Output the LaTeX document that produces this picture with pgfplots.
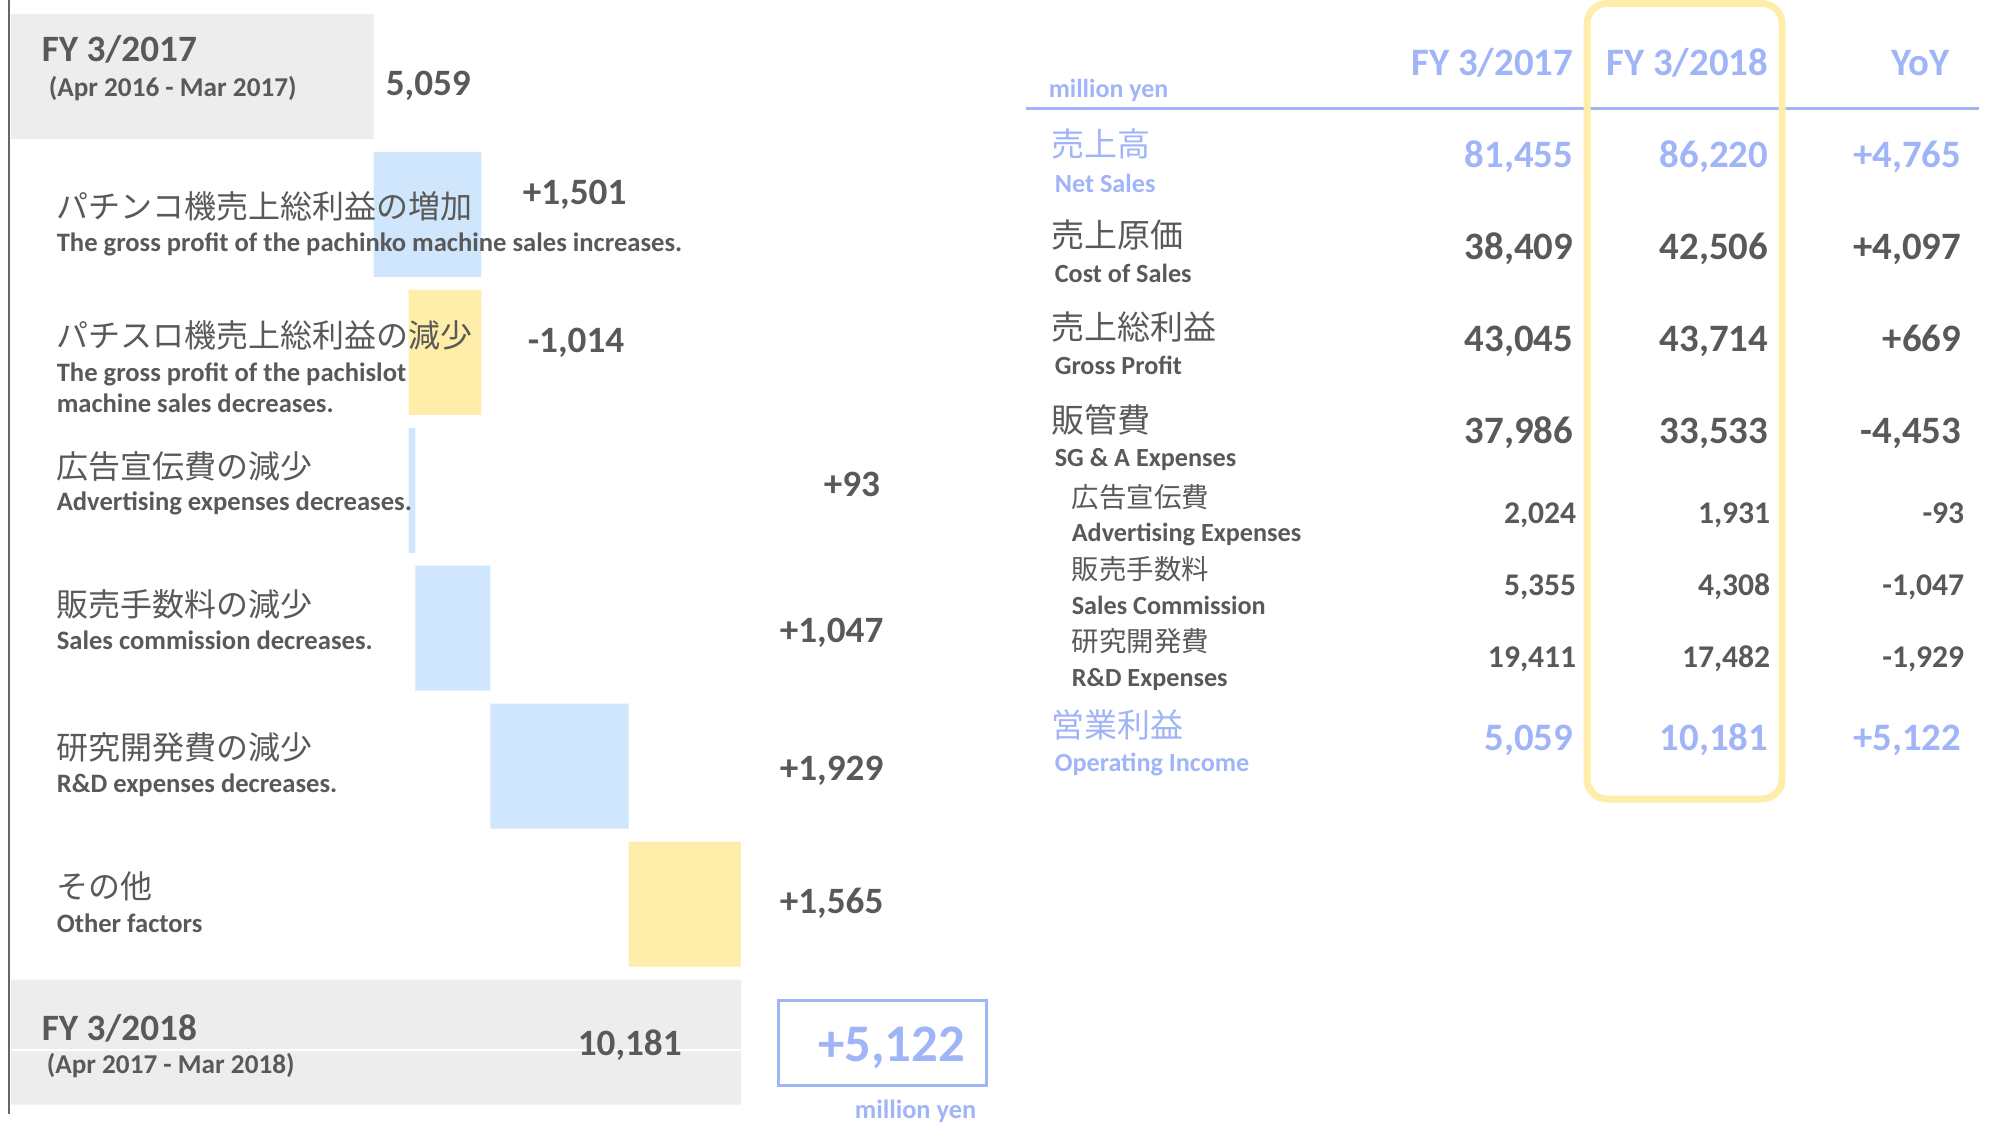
\documentclass[border=0pt]{standalone}
\usepackage{fontspec}
\setmainfont{Carlito}
\newfontfamily\jp{Noto Sans CJK JP}
\usepackage{pgfplots}
\usepackage{pgfplotstable}
\pgfplotsset{compat=1.18}
\definecolor{txt}{HTML}{595959}
\definecolor{bl}{RGB}{160,180,248}
\definecolor{bfill}{HTML}{D0E6FC}
\definecolor{yfill}{HTML}{FFEDAA}
\definecolor{gfill}{HTML}{EDEDED}
\definecolor{axl}{HTML}{666666}
\newcommand\fs[1]{\fontsize{#1}{#1}\selectfont}

\pgfplotstableread{
row off gray blue yellow
0 0 5059 0 0
-1 5059 0 1501 0
-2 5546 0 0 1014
-3 5546 0 93 0
-4 5639 0 1047 0
-5 6686 0 1929 0
-6 8615 0 0 1565
-7 0 10181 0 0
}\wf

\begin{document}
\begin{tikzpicture}
\path[use as bounding box] (0,0) rectangle (497.25pt,-281pt);
\begin{axis}[at={(2.75pt,-277.75pt)}, anchor=south west, scale only axis,
  width=182.5pt, height=275.875pt, xmin=0, xmax=10181, ymin=-7.5, ymax=0.5,
  xbar stacked, bar width=31.25pt, axis lines=none,
  xtick=\empty, ytick=\empty, clip=false]
\addplot[draw=none, fill=none] table[x=off, y=row] {\wf};
\addplot[draw=none, fill=gfill] table[x=gray, y=row] {\wf};
\addplot[draw=none, fill=bfill] table[x=blue, y=row] {\wf};
\addplot[draw=none, fill=yfill] table[x=yellow, y=row] {\wf};
\end{axis}
\begin{scope}[x=0.25pt, y=-0.25pt, every node/.style={inner sep=0pt, text=txt},
  L/.style={anchor=base west}, R/.style={anchor=base east}]
% axis line
\draw[axl, line width=0.5pt] (9,0) -- (9,1114);
% white line in bottom bar
\draw[white, line width=0.4pt] (11,1050) -- (741,1050);
% left labels
\node[L, font=\bfseries\fs{9.3pt}] at (41,62) {FY 3/2017};
\node[L, font=\bfseries\fs{6.8pt}] at (48,96) {(Apr 2016 - Mar 2017)};
\node[L, font=\bfseries\fs{9.3pt}] at (385,95) {5,059};
\node[L, font=\jp\fs{8pt}] at (56,218) {パチンコ機売上総利益の増加};
\node[L, font=\bfseries\fs{6.65pt}] at (56,251) {The gross profit of the pachinko machine sales increases.};
\node[L, font=\bfseries\fs{9.3pt}] at (522,204) {+1,501};
\node[L, font=\jp\fs{8pt}] at (56,347) {パチスロ機売上総利益の減少};
\node[L, font=\bfseries\fs{6.65pt}] at (56,381) {The gross profit of the pachislot};
\node[L, font=\bfseries\fs{6.65pt}] at (56,412) {machine sales decreases.};
\node[L, font=\bfseries\fs{9.3pt}] at (527,352) {-1,014};
\node[L, font=\jp\fs{8pt}] at (56,478) {広告宣伝費の減少};
\node[L, font=\bfseries\fs{6.65pt}] at (56,510) {Advertising expenses decreases.};
\node[L, font=\bfseries\fs{9.3pt}] at (823,496) {+93};
\node[L, font=\jp\fs{8pt}] at (56,616) {販売手数料の減少};
\node[L, font=\bfseries\fs{6.65pt}] at (56,649) {Sales commission decreases.};
\node[L, font=\bfseries\fs{9.3pt}] at (779,642) {+1,047};
\node[L, font=\jp\fs{8pt}] at (56,759) {研究開発費の減少};
\node[L, font=\bfseries\fs{6.65pt}] at (56,792) {R\&D expenses decreases.};
\node[L, font=\bfseries\fs{9.3pt}] at (779,780) {+1,929};
\node[L, font=\jp\fs{8pt}] at (56,898) {その他};
\node[L, font=\bfseries\fs{6.65pt}] at (56,932) {Other factors};
\node[L, font=\bfseries\fs{9.3pt}] at (779,913) {+1,565};
\node[L, font=\bfseries\fs{9.3pt}] at (41,1040) {FY 3/2018};
\node[L, font=\bfseries\fs{6.8pt}] at (46,1073) {(Apr 2017 - Mar 2018)};
\node[L, font=\bfseries\fs{9.3pt}] at (577,1055) {10,181};
\draw[bl, line width=0.75pt] (778,1000) rectangle (986,1085);
\node[R, font=\bfseries\fs{13.2pt}, text=bl] at (966,1061) {+5,122};
\node[R, font=\bfseries\fs{6.6pt}, text=bl] at (977,1118) {million yen};
% table
\draw[bl, line width=0.75pt] (1026,108.5) -- (1979,108.5);
\draw[yfill, line width=1.75pt, rounded corners=5pt] (1587,3.5) rectangle (1782,799);
\node[L, font=\bfseries\fs{6.5pt}, text=bl] at (1048,97) {million yen};
\node[R, font=\bfseries\fs{9.7pt}, text=bl] at (1574,75) {FY 3/2017};
\node[R, font=\bfseries\fs{9.7pt}, text=bl] at (1769,75) {FY 3/2018};
\node[R, font=\bfseries\fs{9.7pt}, text=bl] at (1950,75) {YoY};
% main rows
\begin{scope}[every node/.append style={text=bl}]
\node[L, font=\jp\fs{8.25pt}] at (1051,156) {売上高};
\node[L, font=\bfseries\fs{6.55pt}] at (1054,192) {Net Sales};
\node[R, font=\bfseries\fs{9.7pt}] at (1574,167) {81,455};
\node[R, font=\bfseries\fs{9.7pt}] at (1769,167) {86,220};
\node[R, font=\bfseries\fs{9.7pt}] at (1962,167) {+4,765};
\node[L, font=\jp\fs{8.25pt}] at (1051,737) {営業利益};
\node[L, font=\bfseries\fs{6.55pt}] at (1054,771) {Operating Income};
\node[R, font=\bfseries\fs{9.7pt}] at (1574,750) {5,059};
\node[R, font=\bfseries\fs{9.7pt}] at (1769,750) {10,181};
\node[R, font=\bfseries\fs{9.7pt}] at (1962,750) {+5,122};
\end{scope}
\node[L, font=\jp\fs{8.25pt}] at (1051,247) {売上原価};
\node[L, font=\bfseries\fs{6.55pt}] at (1054,282) {Cost of Sales};
\node[R, font=\bfseries\fs{9.7pt}] at (1574,259) {38,409};
\node[R, font=\bfseries\fs{9.7pt}] at (1769,259) {42,506};
\node[R, font=\bfseries\fs{9.7pt}] at (1962,259) {+4,097};
\node[L, font=\jp\fs{8.25pt}] at (1051,339) {売上総利益};
\node[L, font=\bfseries\fs{6.55pt}] at (1054,374) {Gross Profit};
\node[R, font=\bfseries\fs{9.7pt}] at (1574,351) {43,045};
\node[R, font=\bfseries\fs{9.7pt}] at (1769,351) {43,714};
\node[R, font=\bfseries\fs{9.7pt}] at (1962,351) {+669};
\node[L, font=\jp\fs{8.25pt}] at (1051,432) {販管費};
\node[L, font=\bfseries\fs{6.55pt}] at (1054,466) {SG \& A Expenses};
\node[R, font=\bfseries\fs{9.7pt}] at (1574,443) {37,986};
\node[R, font=\bfseries\fs{9.7pt}] at (1769,443) {33,533};
\node[R, font=\bfseries\fs{9.7pt}] at (1962,443) {-4,453};
% sub rows
\node[L, font=\jp\fs{6.85pt}] at (1071,507) {広告宣伝費};
\node[L, font=\bfseries\fs{6.55pt}] at (1071,541) {Advertising Expenses};
\node[R, font=\bfseries\fs{7.9pt}] at (1577,523) {2,024};
\node[R, font=\bfseries\fs{7.9pt}] at (1771,523) {1,931};
\node[R, font=\bfseries\fs{7.9pt}] at (1965,523) {-93};
\node[L, font=\jp\fs{6.85pt}] at (1071,579) {販売手数料};
\node[L, font=\bfseries\fs{6.55pt}] at (1071,614) {Sales Commission};
\node[R, font=\bfseries\fs{7.9pt}] at (1577,595) {5,355};
\node[R, font=\bfseries\fs{7.9pt}] at (1771,595) {4,308};
\node[R, font=\bfseries\fs{7.9pt}] at (1965,595) {-1,047};
\node[L, font=\jp\fs{6.85pt}] at (1071,651) {研究開発費};
\node[L, font=\bfseries\fs{6.55pt}] at (1071,686) {R\&D Expenses};
\node[R, font=\bfseries\fs{7.9pt}] at (1577,667) {19,411};
\node[R, font=\bfseries\fs{7.9pt}] at (1771,667) {17,482};
\node[R, font=\bfseries\fs{7.9pt}] at (1965,667) {-1,929};
\end{scope}
\end{tikzpicture}
\end{document}
